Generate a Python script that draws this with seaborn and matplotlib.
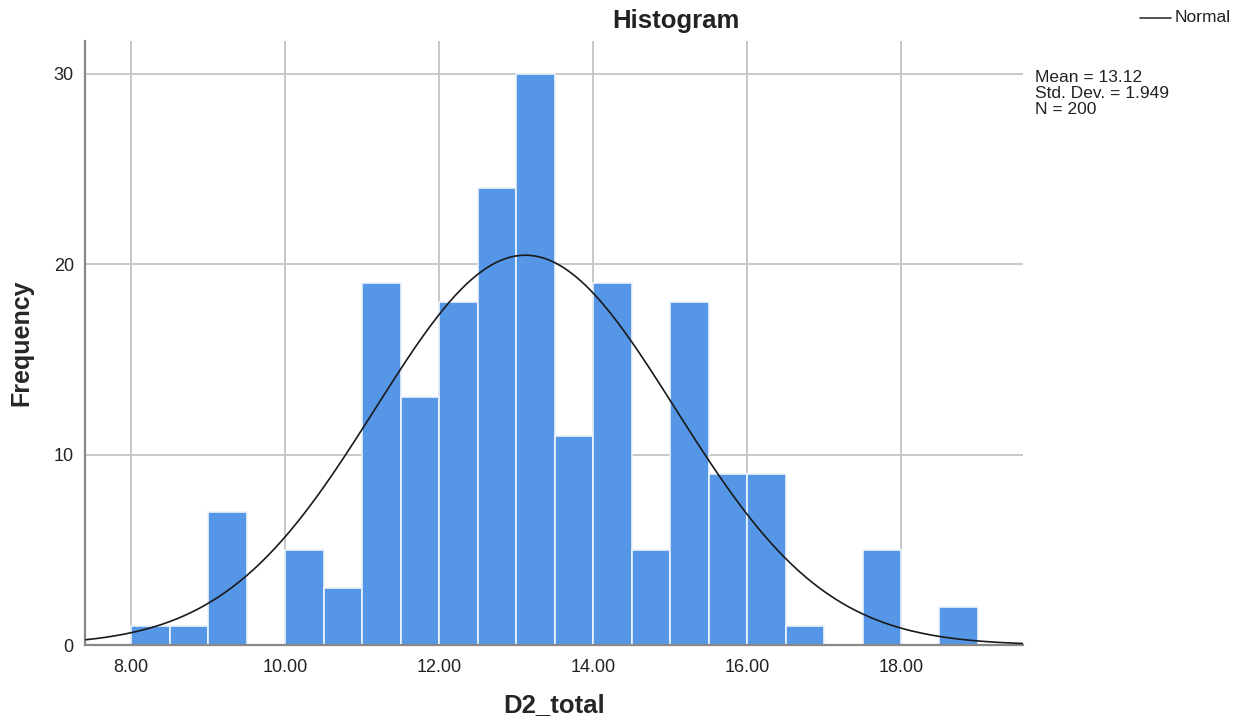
import numpy as np
import pandas as pd
import matplotlib.pyplot as plt
import seaborn as sns

# bin edges (width 0.5) and frequencies
bin_left = [8.0, 8.5, 9.0, 9.5, 10.0, 10.5, 11.0, 11.5, 12.0, 12.5, 13.0,
            13.5, 14.0, 14.5, 15.0, 15.5, 16.0, 16.5, 17.0, 17.5, 18.0, 18.5]
counts = [1, 1, 7, 0, 5, 3, 19, 13, 18, 24, 30,
          11, 19, 5, 18, 9, 9, 1, 0, 5, 0, 2]
mean_val = 13.12
sd_val = 1.949
n_val = 200
bin_width = 0.5

x_ticks = [8, 10, 12, 14, 16, 18]
x_ticklabels = ["8.00", "10.00", "12.00", "14.00", "16.00", "18.00"]
y_ticks = [0, 10, 20, 30]

sns.set_style("white")
plt.rcParams['font.family'] = ['Liberation Sans', 'DejaVu Sans']

df = pd.DataFrame({"D2_total": np.array(bin_left) + bin_width / 2, "count": counts})
edges = list(bin_left) + [bin_left[-1] + bin_width]

fig = plt.figure(figsize=(12.37, 7.24), dpi=100)
ax = fig.add_axes([0.0687, 0.109, 0.758, 0.834])

# grid first so bars sit on top
for xt in x_ticks:
    ax.axvline(xt, color="#c4c4c4", linewidth=1.3, zorder=0)
for yt in y_ticks[1:]:
    ax.axhline(yt, color="#c4c4c4", linewidth=1.3, zorder=0)

sns.histplot(data=df, x="D2_total", weights="count", bins=edges,
             color="#5596e6", alpha=1, edgecolor="#eef4fc", linewidth=1.2,
             ax=ax, zorder=2)

# fitted normal curve scaled to counts
xs = np.linspace(7.40, 19.58, 400)
curve = n_val * bin_width * np.exp(-0.5 * ((xs - mean_val) / sd_val) ** 2) / (sd_val * np.sqrt(2 * np.pi))
sns.lineplot(x=xs, y=curve, color="#1a1a1a", linewidth=1.2, ax=ax, zorder=3)

ax.set_xlim(7.40, 19.58)
ax.set_ylim(0, 31.7)
ax.set_xticks(x_ticks)
ax.set_xticklabels(x_ticklabels)
ax.set_yticks(y_ticks)
ax.tick_params(length=0, labelsize=13, colors="#222222", pad=8)
ax.tick_params(axis="x", pad=10)

for side in ["top", "right"]:
    ax.spines[side].set_visible(False)
for side in ["left", "bottom"]:
    ax.spines[side].set_color("#888888")
    ax.spines[side].set_linewidth(1.6)

ax.set_xlabel("D2_total", fontsize=18.5, fontweight="bold", labelpad=12)
ax.set_ylabel("Frequency", fontsize=18, fontweight="bold", labelpad=15)
fig.text(676 / 1237, 1 - 21 / 724, "Histogram", fontsize=18.5, fontweight="bold",
         ha="center", va="center", color="#222222")

# legend and stats box on the right
fig.lines.append(plt.Line2D([1140 / 1237, 1171 / 1237], [1 - 18 / 724, 1 - 18 / 724],
                            color="#333333", linewidth=1.2, transform=fig.transFigure))
fig.text(1175 / 1237, 1 - 18 / 724, "Normal", fontsize=12.5, va="center", ha="left", color="#222222")
stats_lines = [f"Mean = {mean_val:.2f}", f"Std. Dev. = {sd_val:.3f}", f"N = {n_val}"]
for i, line in enumerate(stats_lines):
    fig.text(1035 / 1237, 1 - (78 + 16 * i) / 724, line,
             fontsize=12.5, va="center", ha="left", color="#222222")

plt.savefig("out.png", dpi=100)
